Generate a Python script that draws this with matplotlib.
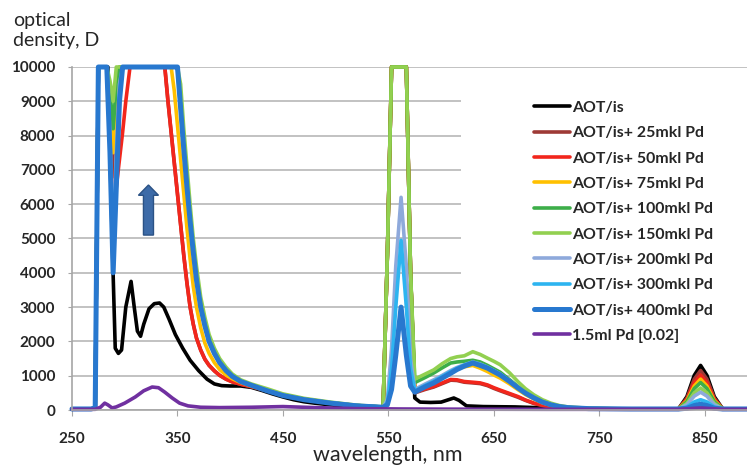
import numpy as np
import matplotlib
matplotlib.use("Agg")
import matplotlib.pyplot as plt
from matplotlib.patches import FancyArrow, Rectangle

# absorption spectra of AOT/isooctane with growing Pd additions
labels = ["AOT/is", "AOT/is+ 25mkl Pd", "AOT/is+ 50mkl Pd", "AOT/is+ 75mkl Pd",
          "AOT/is+ 100mkl Pd", "AOT/is+ 150mkl Pd", "AOT/is+ 200mkl Pd",
          "AOT/is+ 300mkl Pd", "AOT/is+ 400mkl Pd", "1.5ml Pd [0.02]"]
colors = ["#000000", "#9E3A36", "#F2261C", "#FFC000", "#3DAE49", "#92D050",
          "#8EA9DB", "#2DB4F0", "#2878CF", "#7030A0"]

# pure AOT/is
wl_aot = [250, 268, 272, 275, 284, 289, 291, 294, 297, 301, 306, 309, 312, 315,
          318, 323, 328, 333, 337, 342, 348, 355, 362, 370, 378, 385, 392, 400,
          410, 420, 430, 440, 450, 460, 470, 480, 495, 510, 525, 540, 545, 549,
          553, 567, 571, 575, 580, 590, 600, 607, 612, 617, 624, 640, 670, 700,
          730, 800, 825, 833, 840, 846, 852, 859, 867, 890]
d_aot = [30, 30, 60, 10000, 10000, 3950, 1800, 1650, 1750, 3000, 3750, 3000,
         2300, 2150, 2500, 2950, 3100, 3120, 3000, 2650, 2200, 1800, 1450, 1150,
         900, 760, 710, 700, 700, 660, 570, 470, 380, 300, 240, 200, 150, 100,
         80, 60, 60, 4500, 10000, 10000, 4000, 350, 230, 220, 230, 300, 350,
         280, 120, 100, 90, 60, 40, 30, 30, 390, 1010, 1300, 1010, 390, 30, 30]

# pure Pd solution
wl_pd = [250, 272, 277, 281, 284, 288, 292, 300, 310, 318, 326, 332, 338, 345,
         352, 360, 372, 390, 420, 450, 480, 520, 560, 600, 700, 825, 846, 867, 890]
d_pd = [20, 20, 80, 200, 150, 60, 90, 200, 380, 560, 670, 650, 520, 350, 200,
        120, 80, 70, 80, 100, 70, 40, 30, 25, 20, 20, 60, 20, 20]

# common wavelength grid for the Pd additions
wl = [250, 268, 272, 275, 283, 286, 289, 292, 295, 298, 301, 305, 335, 338, 341,
      344, 347, 350, 353, 356, 359, 362, 365, 368, 372, 376, 380, 385, 390, 396,
      402, 410, 420, 435, 450, 470, 495, 520, 545, 549, 553, 557, 562, 567, 571,
      575, 585, 593, 601, 609, 615, 622, 630, 637, 644, 650, 656, 665, 673, 680,
      688, 696, 704, 712, 720, 740, 780, 820, 825, 833, 840, 846, 852, 859, 867,
      875, 890]

d_25 = [30, 30, 60, 10000, 10000, 8500, 6800, 8000, 9200, 10000, 10000, 10000,
        10000, 10000, 9000, 8100, 7200, 6300, 5400, 4500, 3700, 3000, 2500, 2100,
        1750, 1480, 1300, 1140, 1010, 900, 820, 750, 680, 560, 440, 310, 200, 125,
        80, 4500, 10000, 10000, 10000, 10000, 4000, 500, 600, 670, 770, 870, 860,
        810, 790, 770, 710, 630, 560, 460, 370, 280, 190, 130, 90, 60, 45, 35,
        30, 30, 30, 345, 900, 1150, 900, 345, 30, 30, 30]
d_50 = [30, 30, 60, 10000, 10000, 8000, 5700, 6500, 7300, 8100, 9000, 10000,
        10000, 10000, 9000, 8100, 7200, 6300, 5400, 4500, 3700, 3000, 2500, 2100,
        1750, 1480, 1300, 1140, 1010, 900, 820, 750, 680, 570, 450, 320, 210, 130,
        80, 4500, 10000, 10000, 10000, 10000, 4000, 520, 620, 690, 790, 890, 880,
        830, 810, 790, 730, 650, 580, 480, 390, 290, 200, 140, 100, 70, 50, 35,
        30, 30, 30, 305, 795, 1020, 795, 305, 30, 30, 30]
d_75 = [30, 30, 60, 10000, 10000, 9000, 7500, 9000, 10000, 10000, 10000, 10000,
        10000, 10000, 10000, 10000, 9300, 8300, 7300, 6300, 5300, 4400, 3600,
        3000, 2400, 1950, 1650, 1380, 1180, 1020, 910, 800, 700, 570, 440, 310,
        210, 130, 85, 4500, 10000, 10000, 10000, 10000, 4000, 560, 740, 860, 990,
        1120, 1200, 1260, 1300, 1220, 1120, 1020, 930, 760, 590, 450, 320, 210,
        140, 90, 60, 40, 30, 30, 30, 270, 700, 900, 700, 270, 30, 30, 30]
d_100 = [30, 30, 60, 10000, 10000, 9300, 8200, 9500, 10000, 10000, 10000, 10000,
         10000, 10000, 10000, 10000, 10000, 10000, 8900, 7700, 6600, 5600, 4700,
         3900, 3100, 2500, 2050, 1680, 1400, 1170, 990, 840, 730, 580, 430, 310,
         210, 130, 85, 4500, 10000, 10000, 10000, 10000, 4000, 800, 950, 1080,
         1230, 1370, 1400, 1420, 1450, 1400, 1300, 1200, 1100, 880, 680, 510, 360,
         240, 160, 100, 70, 40, 30, 30, 30, 240, 625, 800, 625, 240, 30, 30, 30]
d_150 = [30, 30, 60, 10000, 10000, 9600, 9000, 10000, 10000, 10000, 10000,
         10000, 10000, 10000, 10000, 10000, 10000, 10000, 9500, 8200, 7100, 6000,
         5000, 4200, 3300, 2700, 2200, 1800, 1500, 1250, 1050, 880, 760, 620, 470,
         340, 230, 140, 90, 4500, 10000, 10000, 10000, 10000, 4000, 900, 1050,
         1170, 1350, 1500, 1550, 1580, 1700, 1620, 1510, 1420, 1320, 1080, 820,
         620, 440, 300, 200, 130, 90, 50, 30, 30, 30, 190, 500, 640, 500, 190,
         30, 30, 30]
d_200 = [30, 30, 60, 10000, 10000, 8000, 5000, 7500, 9500, 10000, 10000, 10000,
         10000, 10000, 10000, 10000, 10000, 10000, 8800, 7600, 6500, 5500, 4600,
         3800, 3000, 2450, 2000, 1650, 1380, 1150, 980, 830, 720, 570, 430, 310,
         210, 130, 85, 300, 1800, 4200, 6200, 4200, 1500, 600, 760, 880, 1010,
         1150, 1240, 1320, 1400, 1340, 1250, 1150, 1050, 850, 660, 500, 360, 240,
         160, 100, 70, 40, 30, 30, 30, 155, 405, 520, 405, 155, 30, 30, 30]
d_300 = [30, 30, 60, 10000, 10000, 7700, 4500, 7000, 9200, 10000, 10000, 10000,
         10000, 10000, 10000, 10000, 10000, 10000, 8800, 7600, 6500, 5500, 4600,
         3800, 3000, 2450, 2000, 1650, 1380, 1150, 980, 830, 720, 570, 430, 310,
         210, 130, 85, 200, 1200, 3000, 4950, 3000, 1200, 560, 720, 840, 980,
         1120, 1220, 1310, 1390, 1330, 1240, 1140, 1040, 840, 650, 490, 350, 235,
         155, 100, 70, 40, 30, 30, 30, 90, 235, 300, 235, 90, 30, 30, 30]
d_400 = [30, 30, 60, 10000, 10000, 7500, 4000, 6500, 9000, 10000, 10000, 10000,
         10000, 10000, 10000, 10000, 10000, 10000, 8800, 7600, 6500, 5500, 4600,
         3800, 3000, 2450, 2000, 1650, 1380, 1150, 980, 830, 720, 560, 420, 300,
         200, 120, 80, 150, 600, 1600, 3000, 1600, 700, 520, 680, 790, 930, 1070,
         1180, 1280, 1370, 1300, 1220, 1120, 1020, 830, 640, 490, 350, 230, 150,
         100, 70, 40, 30, 30, 30, 50, 130, 170, 130, 50, 30, 30, 30]

series = [(wl_aot, d_aot), (wl, d_25), (wl, d_50), (wl, d_75), (wl, d_100),
          (wl, d_150), (wl, d_200), (wl, d_300), (wl, d_400), (wl_pd, d_pd)]

fig = plt.figure(figsize=(7.47, 4.66), dpi=100)
ax = fig.add_axes([72 / 747, 56 / 466, 675 / 747, 343 / 466])

for (x, y), lab, c in zip(series, labels, colors):
    lw = 3.6 if c == "#2878CF" else 2.6
    ax.plot(x, y, color=c, lw=lw, label=lab, clip_on=False,
            solid_joinstyle="round", solid_capstyle="round")

ax.set_xlim(250, 890)
ax.set_ylim(0, 10000)
ax.set_xticks([250, 350, 450, 550, 650, 750, 850])
ax.set_yticks(np.arange(0, 10001, 1000))
ax.grid(axis="y", color="#BDBDBD", lw=1.3)
ax.set_axisbelow(True)
for side in ["top", "right"]:
    ax.spines[side].set_visible(False)
for side in ["left", "bottom"]:
    ax.spines[side].set_color("#A6A6A6")
    ax.spines[side].set_linewidth(1.2)
ax.tick_params(axis="y", length=3, color="#A6A6A6", pad=9)
ax.tick_params(axis="x", length=4, color="#A6A6A6", pad=12)
for t in ax.get_xticklabels() + ax.get_yticklabels():
    t.set_fontfamily("Lato")
    t.set_fontweight("bold")
    t.set_fontsize(11)
    t.set_color("#262626")

# white area behind the legend hides the grid there
ax.add_patch(Rectangle((0.576, 0.16), 0.45, 0.81, transform=ax.transAxes,
                       facecolor="white", edgecolor="none", zorder=1))

# arrow showing the rise with Pd content
ax.add_patch(FancyArrow(322.5, 5100, 0, 1460, width=9.5, head_width=19,
                        head_length=300, length_includes_head=True,
                        facecolor="#3D6BA8", edgecolor="#2B5285", lw=1, zorder=3))

leg = fig.legend(loc="upper left", bbox_to_anchor=(526 / 747, 1 - 93 / 466),
                 frameon=False, borderpad=0, handlelength=2.3, handletextpad=0.13,
                 labelspacing=0.71, prop={"family": "Lato", "weight": "bold", "size": 11.4})
for t in leg.get_texts():
    t.set_color("#262626")

fig.text(13 / 747, 1 - 26 / 466, "optical", fontfamily="Lato", fontsize=14,
         va="baseline", color="#262626")
fig.text(13 / 747, 1 - 46 / 466, "density, D", fontfamily="Lato", fontsize=14,
         va="baseline", color="#262626")
fig.text(387.5 / 747, 1 - 461 / 466, "wavelength, nm", fontfamily="Lato",
         fontsize=15.5, ha="center", va="baseline", color="#262626")

fig.savefig("out.png", dpi=100)
